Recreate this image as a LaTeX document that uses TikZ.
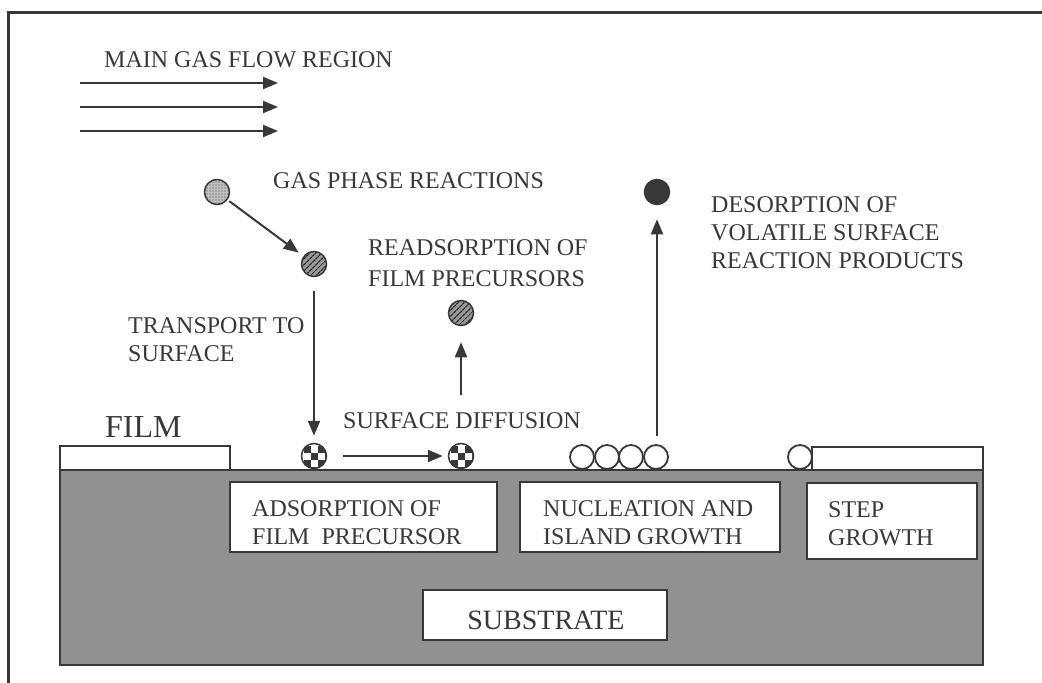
\documentclass[tikz,border=0pt]{standalone}
\usepackage{fontspec}
\setmainfont{Liberation Serif}
\usetikzlibrary{arrows.meta,patterns.meta}
\definecolor{subgray}{gray}{0.57}
\definecolor{ink}{gray}{0.22}
\begin{document}
\begin{tikzpicture}[x=1pt,y=-1pt,
  lbl/.style={anchor=base west, inner sep=0, text=ink, font=\fontsize{24}{28}\selectfont},
  flow/.style={line width=2pt, draw=ink, -{Triangle[length=15pt,width=12pt]}},
  boxframe/.style={draw=ink, line width=2.5pt, fill=white},
  ball/.style={circle, draw=ink, line width=1.5pt, minimum size=25pt, inner sep=0pt},
  dotball/.style={ball, preaction={fill=black!25}, pattern={Dots[distance=3pt,radius=0.7pt]}, pattern color=black!70},
  hatchball/.style={ball, preaction={fill=black!40}, pattern={Lines[angle=45,distance=4pt,line width=1.3pt]}, pattern color=black!85},
  blackball/.style={ball, fill=ink},
  openball/.style={circle, draw=ink, line width=1.8pt, fill=white, minimum size=24pt, inner sep=0pt},
  checkball/.style={ball, fill=white, path picture={
     \foreach \i in {-2,...,1}{\foreach \j in {-2,...,1}{
       \pgfmathtruncatemacro\k{mod(\i+\j+6,2)}
       \ifnum\k=0 \fill[ink] ([shift={(\i*7+3.5,\j*7+3.5)}]path picture bounding box.center) rectangle ++(7,7);\fi}}}}
]
\useasboundingbox (0,0) rectangle (1042,683);
% frame
\draw[line width=3pt, ink] (8,683) -- (8,12) -- (1042,12);

% substrate and films
\draw[draw=ink, line width=2.5pt, fill=subgray] (60,470) rectangle (983,665);
\draw[boxframe, line width=2pt] (60,446) rectangle (230,470);
\draw[boxframe, line width=2pt] (812,447) rectangle (983,470);

% boxes inside substrate
\draw[boxframe] (230,482) rectangle (497,552);
\draw[boxframe] (520,482) rectangle (780,552);
\draw[boxframe] (807,483) rectangle (977,559);
\draw[boxframe] (423,590) rectangle (667,640);

% texts
\node[lbl] (tmain) at (104,67) {MAIN GAS FLOW REGION};
\node[lbl] (tgas) at (273,188) {GAS PHASE REACTIONS};
\node[lbl] (tread1) at (368,255) {READSORPTION OF};
\node[lbl] (tread2) at (368,286) {FILM PRECURSORS};
\node[lbl] (ttr1) at (128,333) {TRANSPORT TO};
\node[lbl] (ttr2) at (128,361) {SURFACE};
\node[lbl] (tdiff) at (343,428) {SURFACE DIFFUSION};
\node[lbl] (tdes1) at (711,212) {DESORPTION OF};
\node[lbl] (tdes2) at (711,240) {VOLATILE SURFACE};
\node[lbl] (tdes3) at (711,268) {REACTION PRODUCTS};
\node[lbl, font=\fontsize{32}{36}\selectfont] (tfilm) at (105,437) {FILM};
\node[lbl] (tads1) at (252,516) {ADSORPTION OF};
\node[lbl] (tads2) at (252,544) {FILM\ \ PRECURSOR};
\node[lbl] (tnuc1) at (543,516) {NUCLEATION AND};
\node[lbl] (tnuc2) at (543,544) {ISLAND GROWTH};
\node[lbl] (tstep1) at (828,517) {STEP};
\node[lbl] (tstep2) at (828,545) {GROWTH};
\node[lbl, anchor=base, font=\fontsize{28}{32}\selectfont] (tsub) at (546,629) {SUBSTRATE};

% gas flow arrows
\coordinate (f1a) at (80,83);  \coordinate (f1b) at (278,83);
\coordinate (f2a) at (80,107); \coordinate (f2b) at (278,107);
\coordinate (f3a) at (80,131); \coordinate (f3b) at (278,131);
\draw[flow] (f1a) -- (f1b);
\draw[flow] (f2a) -- (f2b);
\draw[flow] (f3a) -- (f3b);

% balls
\node[dotball] (b1) at (217,192) {};
\node[hatchball] (b2) at (314,264) {};
\node[checkball] (b3) at (314,456) {};
\node[checkball] (b4) at (461,456) {};
\node[hatchball] (b5) at (461,313) {};
\node[blackball] (b6) at (657,192) {};

\node[openball] (c1) at (582,457) {};
\node[openball] (c2) at (607,457) {};
\node[openball] (c3) at (631,457) {};
\node[openball] (c4) at (656,457) {};
\node[openball] (c5) at (800,457) {};

% process arrows
\draw[flow, shorten <=2pt, shorten >=6pt] (b1) -- (b2);
\draw[flow, shorten <=14pt, shorten >=7pt] (b2) -- (b3);
\draw[flow, shorten <=16pt, shorten >=5pt] (b3) -- (b4);
\coordinate (d0) at (461,395);
\draw[flow, shorten >=16pt] (d0) -- (b5);
\coordinate (e0) at (657,436);
\draw[flow, shorten >=14pt] (e0) -- (b6);
\end{tikzpicture}
\end{document}
